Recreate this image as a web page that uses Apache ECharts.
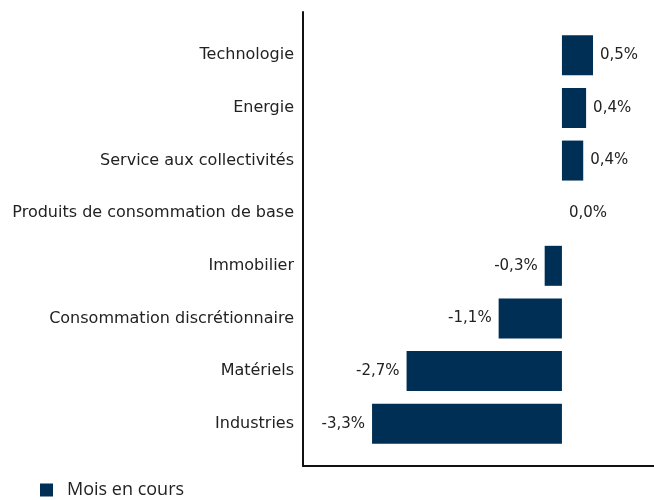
<!DOCTYPE html>
<html>
<head>
<meta charset="utf-8">
<script src="https://cdn.jsdelivr.net/npm/echarts@6/dist/echarts.min.js"></script>
<style>
  html, body { margin: 0; padding: 0; background: #fff; }
  #chart { width: 654px; height: 500px; }
</style>
</head>
<body>
<div id="chart"></div>
<script>
var categories = ['Technologie', 'Energie', 'Service aux collectivités', 'Produits de consommation de base',
    'Immobilier', 'Consommation discrétionnaire', 'Matériels', 'Industries'];
var values = [0.54, 0.42, 0.37, 0.0, -0.3, -1.1, -2.7, -3.3];
var seriesName = 'Mois en cours';

var chart = echarts.init(document.getElementById('chart'));
var font = 'DejaVu Sans';

var option = {
    animation: false,
    textStyle: { fontFamily: font },
    legend: {
        left: 35,
        bottom: -4,
        itemWidth: 13,
        itemHeight: 13,
        icon: 'rect',
        itemGap: 10,
        textStyle: { fontSize: 18, color: '#222', fontFamily: 'Open Sans', padding: [0, 0, 0, 9] },
        data: [seriesName]
    },
    grid: [
        { left: 303, right: 0, top: 29, bottom: 50 },
        { left: 303, right: 0, top: 12, bottom: 34 }
    ],
    xAxis: [
        { type: 'value', gridIndex: 0, min: -4.5, max: 1.6, show: false },
        {
            type: 'value', gridIndex: 1, min: 0, max: 1,
            axisLine: { show: true, lineStyle: { color: '#111', width: 2 } },
            axisTick: { show: false }, axisLabel: { show: false }, splitLine: { show: false }
        }
    ],
    yAxis: [
        {
            type: 'category', gridIndex: 0, inverse: true, data: categories,
            axisLine: { show: false }, axisTick: { show: false },
            axisLabel: { color: '#222', fontSize: 16, margin: 9 }
        },
        {
            type: 'value', gridIndex: 1, min: 0, max: 1,
            axisLine: { show: true, lineStyle: { color: '#111', width: 2 } },
            axisTick: { show: false }, axisLabel: { show: false }, splitLine: { show: false }
        }
    ],
    series: [{
        name: seriesName,
        type: 'bar',
        xAxisIndex: 0,
        yAxisIndex: 0,
        barWidth: 40,
        itemStyle: { color: '#002f56' },
        data: values.map(function (v) {
            return {
                value: v,
                label: {
                    show: true,
                    position: v < 0 ? 'left' : 'right',
                    distance: 7,
                    color: '#222',
                    fontSize: 15,
                    formatter: function (p) { return p.value.toFixed(1).replace('.', ',') + '%'; }
                }
            };
        })
    }]
};
chart.setOption(option);
</script>
</body>
</html>
